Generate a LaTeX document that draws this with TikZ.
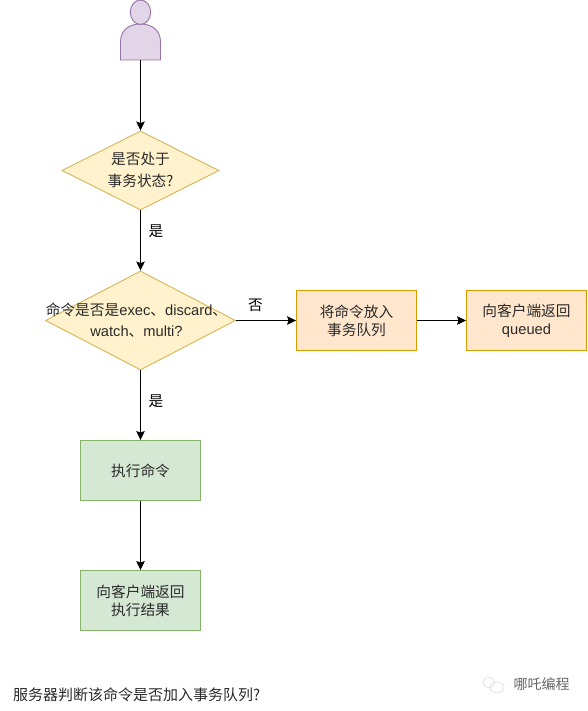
\documentclass[tikz,border=0pt]{standalone}
\usepackage{fontspec}
\setmainfont{Liberation Sans}
\newfontfamily\cjk{Noto Sans CJK SC}
\usetikzlibrary{shapes.geometric,arrows.meta}
\newcommand{\zh}[1]{{\cjk #1}}
\definecolor{txt}{HTML}{2A2A2A}
\tikzset{
  every node/.style={font=\fontsize{14.7}{18}\selectfont,text=txt},
  dia/.style={diamond,draw=yellowline,fill=yellowfill,inner sep=0pt,line width=0.9pt},
  greenbox/.style={rectangle,draw=greenline,fill=greenfill,minimum width=120pt,minimum height=60pt,inner sep=0pt,align=center,line width=0.9pt},
  orangebox/.style={rectangle,draw=orangeline,fill=orangefill,minimum width=120pt,minimum height=60pt,inner sep=0pt,align=center,line width=0.9pt},
  conn/.style={draw=black,line width=1pt,-{Stealth[length=9pt,width=8.5pt,inset=1.5pt]}},
  edgelabel/.style={inner sep=0pt,text=black},
}
\definecolor{yellowline}{HTML}{D6B656}\definecolor{yellowfill}{HTML}{FFF2CC}
\definecolor{greenline}{HTML}{82B366}\definecolor{greenfill}{HTML}{D5E8D4}
\definecolor{orangeline}{HTML}{D79B00}\definecolor{orangefill}{HTML}{FFE6CC}
\definecolor{purpleline}{HTML}{9673A6}\definecolor{purplefill}{HTML}{E1D5E7}
\begin{document}
\begin{tikzpicture}[x=1pt,y=-1pt]
\useasboundingbox[fill=white] (0,0) rectangle (587,711);
% person
\draw[draw=purpleline,fill=purplefill,line width=0.9pt]
  (120.5,60) -- (120.5,42) .. controls (120.5,31) and (128,24) .. (140.5,24)
  .. controls (153,24) and (160.5,31) .. (160.5,42) -- (160.5,60) -- cycle;
\draw[draw=purpleline,fill=purplefill,line width=0.9pt] (140.5,12.2) ellipse [x radius=10.2,y radius=12.2];
\coordinate (person) at (140.5,60);
% nodes
\node[dia,minimum width=157pt,minimum height=79pt,aspect=1.99] (d1) at (140.5,170.5) {};
\node[align=center,font=\fontsize{14.7}{22}\selectfont] (d1t) at (140.5,170) {\zh{是否处于}\\\zh{事务状态?}};
\node[dia,minimum width=190pt,minimum height=99pt,aspect=1.92] (d2) at (140.5,320.5) {};
\node[align=center,inner sep=0pt,font=\fontsize{14.7}{21}\selectfont] (d2t) at (136.5,320.5) {\zh{命令是否是}exec\zh{、}discard\zh{、}\\watch\zh{、}multi?};
\node[orangebox] (q) at (356.5,320.5) {\zh{将命令放入}\\\zh{事务队列}};
\node[orangebox] (r) at (526.5,320.5) {\zh{向客户端返回}\\queued};
\node[greenbox] (e) at (140.5,470.5) {\zh{执行命令}};
\node[greenbox] (f) at (140.5,600.5) {\zh{向客户端返回}\\\zh{执行结果}};
% connectors
\draw[conn] (person) -- (d1.north);
\draw[conn] (d1.south) -- (d2.north);
\draw[conn] (d2.east) -- (q.west);
\draw[conn] (q.east) -- (r.west);
\draw[conn] (d2.south) -- (e.north);
\draw[conn] (e.south) -- (f.north);
% labels
\node[edgelabel] (l1) at (156,231) {\zh{是}};
\node[edgelabel] (l2) at (156,401) {\zh{是}};
\node[edgelabel] (l3) at (255.5,305) {\zh{否}};
\node[anchor=west,inner sep=0pt,font=\fontsize{15}{18}\selectfont] (cap) at (13,695) {\zh{服务器判断该命令是否加入事务队列?}};
% watermark
\draw[gray!30,line width=0.5pt] (489,682.5) ellipse [x radius=6,y radius=5];
\draw[gray!30,line width=0.5pt] (497,687.5) ellipse [x radius=7,y radius=5.5];
\node[anchor=west,inner sep=0pt,text=black!60,font=\fontsize{14}{16}\selectfont] (wm) at (513.5,684.5) {\zh{哪吒编程}};
\end{tikzpicture}
\end{document}
